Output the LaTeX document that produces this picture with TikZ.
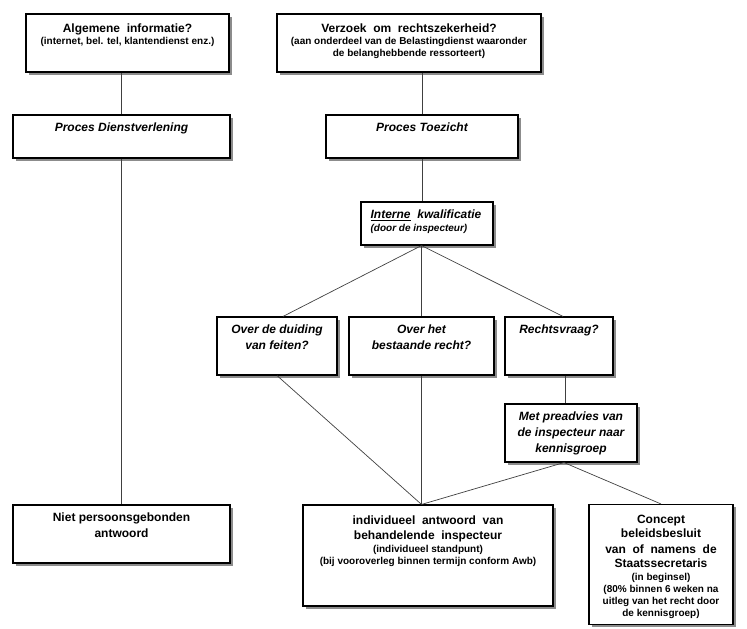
\documentclass[tikz,border=0pt]{standalone}
\usepackage{fontspec}
\setmainfont{Liberation Sans}
\usetikzlibrary{shadows}
\newcommand\Tsz{\fontsize{12}{15.5}\selectfont\bfseries}
\newcommand\Ssz{\fontsize{10}{11.3}\selectfont\bfseries}
\tikzset{
  box/.style={draw=black, line width=1.1pt, fill=white, rectangle, inner sep=0pt,
    drop shadow={shadow xshift=2.5pt, shadow yshift=-2.5pt, fill=black!45, opacity=1}},
  txt/.style={inner sep=0pt, align=center, font=\Tsz},
  link/.style={draw=black!75, line width=0.7pt},
}
\begin{document}
\begin{tikzpicture}[x=1pt,y=-1pt]
\useasboundingbox (0,0) rectangle (747,629);
% boxes
\node[box, minimum width=203pt, minimum height=58pt] (alg) at (127.5,43) {};
\node[box, minimum width=264pt, minimum height=58pt] (ver) at (409,43) {};
\node[box, minimum width=217pt, minimum height=43pt] (pd) at (121.5,136.5) {};
\node[box, minimum width=192pt, minimum height=43pt] (pt) at (422,136.5) {};
\node[box, minimum width=132pt, minimum height=43pt] (ik) at (427,223.5) {};
\node[box, minimum width=120pt, minimum height=58pt] (od) at (277,346) {};
\node[box, minimum width=145pt, minimum height=58pt] (oh) at (421.5,346) {};
\node[box, minimum width=108pt, minimum height=58pt] (rv) at (559,346) {};
\node[box, minimum width=132pt, minimum height=58pt] (mp) at (571,433) {};
\node[box, minimum width=217pt, minimum height=58pt] (np) at (121.5,534) {};
\node[box, minimum width=250pt, minimum height=101pt] (ind) at (428,555.5) {};
\node[box, minimum width=144pt, minimum height=120pt] (con) at (661,564.5) {};
% texts
\node[txt, anchor=north] (algT) at ([yshift=-10pt]alg.north)
  {Algemene\ \ informatie?\\[-3.5pt]\Ssz (internet, bel. tel, klantendienst enz.)};
\node[txt, anchor=north] (verT) at ([yshift=-10pt]ver.north)
  {Verzoek\ \ om\ \ rechtszekerheid?\\[-3.5pt]\Ssz (aan onderdeel van de Belastingdienst waaronder\\[-3.5pt]\Ssz de belanghebbende ressorteert)};
\node[txt, anchor=north, font=\Tsz\itshape] (pdT) at ([yshift=-8.5pt]pd.north) {Proces Dienstverlening};
\node[txt, anchor=north, font=\Tsz\itshape] (ptT) at ([yshift=-8.5pt]pt.north) {Proces Toezicht};
\node[txt, anchor=north west, align=left, font=\Tsz\itshape] (ikT) at ([xshift=10pt,yshift=-8.5pt]ik.north west)
  {\underline{Interne}\ \ kwalificatie\\[-3pt]\Ssz\itshape (door de inspecteur)};
\node[txt, anchor=north, font=\Tsz\itshape] (odT) at ([yshift=-8.5pt]od.north) {Over de duiding\\[0.5pt]van feiten?};
\node[txt, anchor=north, font=\Tsz\itshape] (ohT) at ([yshift=-8.5pt]oh.north) {Over het\\[0.5pt]bestaande recht?};
\node[txt, anchor=north, font=\Tsz\itshape] (rvT) at ([yshift=-8.5pt]rv.north) {Rechtsvraag?};
\node[txt, anchor=north, font=\Tsz\itshape] (mpT) at ([yshift=-8.5pt]mp.north) {Met preadvies van\\[0.5pt]de inspecteur naar\\[0.5pt]kennisgroep};
\node[txt, anchor=north] (npT) at ([yshift=-8.5pt]np.north) {Niet persoonsgebonden\\antwoord};
\node[txt, anchor=north] (indT) at ([yshift=-11pt]ind.north)
  {individueel\ \ antwoord\ \ van\\behandelende\ \ inspecteur\\[-3pt]\Ssz (individueel standpunt)\\[-3.5pt]\Ssz (bij vooroverleg binnen termijn conform Awb)};
\node[txt, anchor=north] (conT) at ([yshift=-10.5pt]con.north)
  {Concept\\[-1pt]beleidsbesluit\\[0pt]van\ \ of\ \ namens\ \ de\\[-1pt]Staatssecretaris\\[-3pt]\Ssz (in beginsel)\\[-3.5pt]\Ssz (80\% binnen 6 weken na\\[-3.5pt]\Ssz uitleg van het recht door\\[-3.5pt]\Ssz de kennisgroep)};
% connectors
\coordinate (j1) at (ik.south -| oh.north);
\coordinate (j2) at (oh.south |- ind.north);
\coordinate (j3) at ([xshift=-7pt]mp.south);
\draw[link] (alg.south -| pd.north) -- (pd.north);
\draw[link] (ver.south -| pt.north) -- (pt.north);
\draw[link] (pd.south) -- (np.north);
\draw[link] (pt.south) -- (pt.south |- ik.north);
\draw[link] (j1) -- ([xshift=6pt]od.north);
\draw[link] (j1) -- (oh.north);
\draw[link] (j1) -- ([xshift=4pt]rv.north);
\draw[link] (od.south) -- (j2);
\draw[link] (oh.south) -- (j2);
\draw[link] ([xshift=6pt]rv.south) -- ([xshift=6pt]rv.south |- mp.north);
\draw[link] (j3) -- (j2);
\draw[link] (j3) -- (con.north);
\end{tikzpicture}
\end{document}
